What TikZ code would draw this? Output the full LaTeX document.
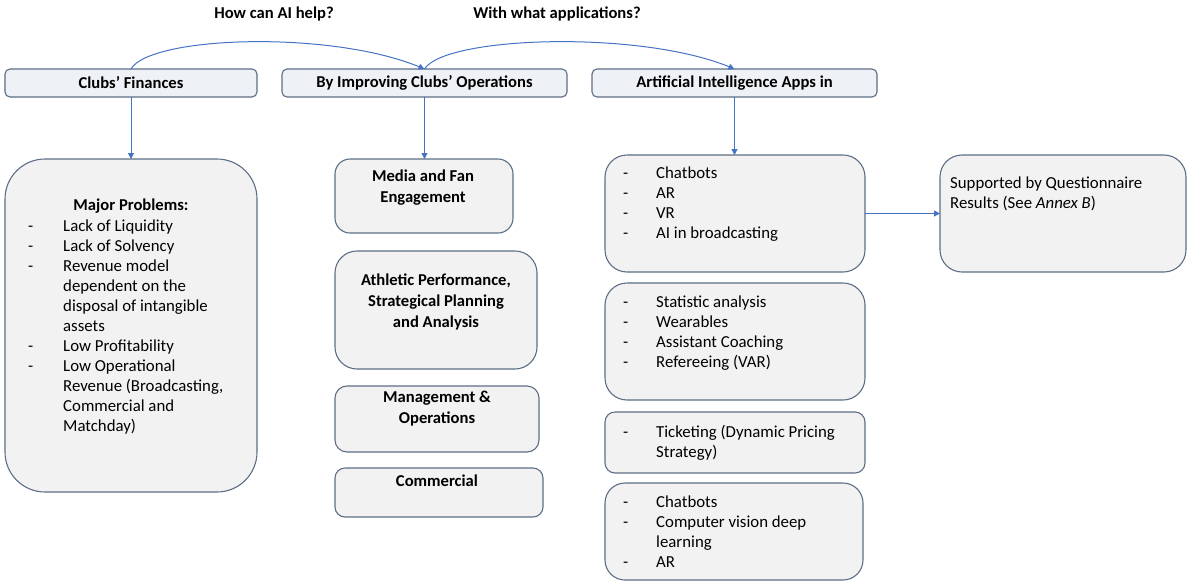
\documentclass[tikz,border=0pt]{standalone}
\usepackage{fontspec}
\setmainfont{Carlito}
\usetikzlibrary{arrows.meta}

\definecolor{boxline}{HTML}{5E6E86}
\definecolor{boxfill}{HTML}{F2F2F2}
\definecolor{headfill}{HTML}{EEF1F5}
\definecolor{arrowblue}{HTML}{4472C4}

\newcommand{\bodysize}{\fontsize{16.8}{20}\selectfont}
\newcommand{\headsize}{\fontsize{16.6}{21}\selectfont\bfseries}
% bulleted list: dash column of width #1, rows given in #2
\newcommand{\dashlist}[2]{\begin{tabular}[t]{@{}p{#1}@{}l@{}}#2\end{tabular}}
\newcommand{\ctrlines}[1]{\begin{tabular}[t]{@{}c@{}}#1\end{tabular}}

\begin{document}
\begin{tikzpicture}[x=1pt,y=-1pt,
  box/.style={draw=boxline, fill=boxfill, line width=1.1pt, anchor=north west,
              inner sep=0pt, outer sep=0pt},
  head/.style={box, fill=headfill, rounded corners=5pt, font=\headsize},
  link/.style={draw=arrowblue, line width=1pt, -{Triangle[length=6pt,width=6pt]}},
  title/.style={font=\headsize, anchor=base, inner sep=0pt},
  body/.style={font=\bodysize, anchor=base west, inner sep=0pt}]

\useasboundingbox (0,0) rectangle (1188,582);

% questions above the top row
\node[title] (q1) at (274,18.5) {How can AI help?};
\node[title] (q2) at (557,18.5) {With what applications?};

% top row
\node[head, minimum width=252pt, minimum height=28pt] (A) at (5,69) {Clubs’ Finances};
\node[head, minimum width=285pt, minimum height=28pt] (B) at (282,69) {By Improving Clubs’ Operations};
\node[head, minimum width=285pt, minimum height=28pt] (C) at (592,69) {Artificial Intelligence Apps in};

% left column: problems
\node[box, rounded corners=40pt, minimum width=252pt, minimum height=333pt] (D) at (5,159) {};
\node[title] (Dt) at (131,210) {Major Problems:};
\node[body] (Dl) at (28,231) {\dashlist{35pt}{
  - & Lack of Liquidity\\
  - & Lack of Solvency\\
  - & Revenue model\\
    & dependent on the\\
    & disposal of intangible\\
    & assets\\
  - & Low Profitability\\
  - & Low Operational\\
    & Revenue (Broadcasting,\\
    & Commercial and\\
    & Matchday)}};

% middle column: operational areas
\node[box, rounded corners=15pt, minimum width=178pt, minimum height=74pt] (M1) at (335,159) {};
\node[title] (M1t) at (423,181) {\ctrlines{Media and Fan\\Engagement}};
\node[box, rounded corners=22pt, minimum width=202pt, minimum height=118pt] (M2) at (335,251) {};
\node[title] (M2t) at (436,285) {\ctrlines{Athletic Performance,\\Strategical Planning\\and Analysis}};
\node[box, rounded corners=12pt, minimum width=204pt, minimum height=66pt] (M3) at (335,386) {};
\node[title] (M3t) at (437,402) {\ctrlines{Management \&\\Operations}};
\node[box, rounded corners=10pt, minimum width=208pt, minimum height=49pt] (M4) at (335,468) {};
\node[title] (M4t) at (437,486) {Commercial};

% right column: applications
\node[box, rounded corners=22pt, minimum width=260pt, minimum height=117pt] (R1) at (605,155) {};
\node[body] (R1l) at (623,178) {\dashlist{33pt}{
  - & Chatbots\\
  - & AR\\
  - & VR\\
  - & AI in broadcasting}};
\node[box, rounded corners=22pt, minimum width=260pt, minimum height=117pt] (R2) at (605,283) {};
\node[body] (R2l) at (623,307) {\dashlist{33pt}{
  - & Statistic analysis\\
  - & Wearables\\
  - & Assistant Coaching\\
  - & Refereeing (VAR)}};
\node[box, rounded corners=10pt, minimum width=260pt, minimum height=61pt] (R3) at (605,412) {};
\node[body] (R3l) at (623,437.5) {\dashlist{33pt}{
  - & Ticketing (Dynamic Pricing\\
    & Strategy)}};
\node[box, rounded corners=20pt, minimum width=258pt, minimum height=97pt] (R4) at (605,483) {};
\node[body] (R4l) at (623,507) {\dashlist{33pt}{
  - & Chatbots\\
  - & Computer vision deep\\
    & learning\\
  - & AR}};

% questionnaire note
\node[box, rounded corners=22pt, minimum width=246pt, minimum height=117pt] (S) at (940,155) {};
\node[body] (St) at (950,188) {\begin{tabular}[t]{@{}l@{}}Supported by Questionnaire\\Results (See \textit{Annex B})\end{tabular}};

% connectors
\draw[link] (A.north) .. controls (150,36) and (330,30) .. (B.north);
\draw[link] (B.north) .. controls (445,36) and (640,30) .. (C.north);
\draw[link] (A.south) -- (D.north);
\draw[link] (B.south) -- (B.south |- M1.north);
\draw[link] (C.south) -- (C.south |- R1.north);
\draw[link] (R1.east) -- (S.west);
\end{tikzpicture}
\end{document}
